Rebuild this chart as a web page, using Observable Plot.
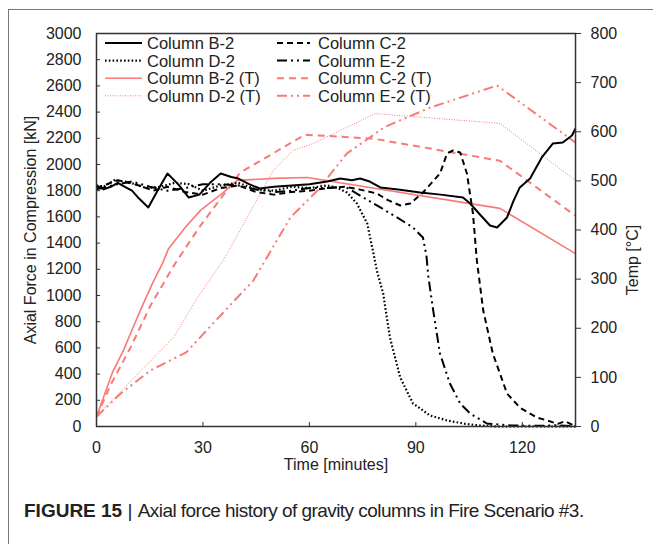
<!DOCTYPE html>
<html><head><meta charset="utf-8">
<script src="https://cdn.jsdelivr.net/npm/d3@7"></script>
<script src="https://cdn.jsdelivr.net/npm/@observablehq/plot@0.6"></script>
<style>
body{margin:0;background:#fff;font-family:"Liberation Sans",Arial,sans-serif;}
#wrap{position:relative;width:653px;height:544px;overflow:hidden;background:#fff;}
#border{position:absolute;left:8px;top:9px;width:700px;height:600px;border:1.5px solid #777;box-sizing:border-box;}
#chart{position:absolute;left:0;top:0;}
#legend{position:absolute;left:0;top:0;}
#caption{position:absolute;left:24px;top:500px;font-family:"Liberation Sans",Arial,sans-serif;font-size:19px;color:#222;white-space:nowrap;}
#caption .rest{letter-spacing:-0.55px;}
</style></head>
<body>
<div id="wrap">
<div id="border"></div>
<div id="chart"></div>
<svg id="legend" width="653" height="120"></svg>
<div id="caption"><b>FIGURE 15</b> | <span class="rest">Axial force history of gravity columns in Fire Scenario #3.</span></div>
</div>
<script>
// ---- tick labels ----
const xTicks = [0, 30, 60, 90, 120];
const yTicks = [0, 200, 400, 600, 800, 1000, 1200, 1400, 1600, 1800, 2000, 2200, 2400, 2600, 2800, 3000];
const tempTicks = [0, 100, 200, 300, 400, 500, 600, 700, 800];

// ---- axial force (kN) ----
const b2Time  = [0,2,4,6,8,10,12,14.6,17,20,23,26,29,32,35,38,40,43,46,50,55,60,65,68.7,72,74.3,77,80,85,91.2,97,103.3,105.3,108,110.9,112.9,115.7,117.5,119.3,122.2,125.5,128.6,131.4,134,135];
const b2Force = [1840,1810,1830,1860,1830,1800,1740,1672,1790,1931,1850,1748,1770,1860,1931,1905,1893,1850,1817,1830,1840,1850,1870,1893,1880,1893,1870,1825,1810,1786,1770,1748,1702,1620,1534,1519,1596,1720,1825,1893,2054,2160,2168,2221,2275];

const c2Time  = [0,3,6,9,12,16,20,25,30,35,40,45,50,55,60,65,70,74,79,82,85.6,88.4,92,96.8,98.8,100.5,102.5,104.4,106.1,107.2,109,111.7,115.7,119.3,124,127,130,132,134,135];
const c2Force = [1820,1850,1880,1860,1840,1800,1830,1790,1770,1820,1840,1790,1770,1790,1800,1820,1830,1810,1779,1730,1687,1702,1786,1931,2084,2107,2092,1931,1626,1267,885,557,252,145,69,46,20,40,15,10];

const d2Time  = [0,2,5,8,11,14,18,22,26,30,35,40,45,50,55,60,65,68,70.6,73.4,76.3,77.7,79.1,80.8,82.7,85.6,89.2,94,98.8,104,108,113,120,135];
const d2Force = [1840,1830,1880,1870,1850,1820,1830,1860,1850,1800,1840,1860,1810,1800,1830,1820,1840,1820,1786,1702,1550,1367,1180,1015,679,374,176,84,46,20,8,0,0,0];

const e2Time  = [0,3,6,10,15,20,25,30,35,40,45,50,55,60,65,70,72,74.3,80,84.7,89.2,92,93,93.5,94.9,96.8,99.6,102.5,105.3,110,117,125,130,135];
const e2Force = [1810,1830,1850,1870,1830,1800,1820,1850,1850,1840,1810,1790,1800,1820,1820,1830,1800,1763,1672,1596,1519,1443,1300,1150,885,557,328,176,99,23,8,5,10,0];

// ---- temperature (°C) ----
const b2tTime = [0,2,4.5,7.6,10.5,13.2,16,18.6,20.3,25,29.3,35.7,39.7,50,59.4,113.7,135];
const b2tTemp = [20,60,110,155,205,250,295,332,362,405,440,476,501,505,507,444,352];

const c2tTime = [0,4,9.6,15.2,22,29.3,40.5,58.8,78,113.7,135];
const c2tTemp = [20,85,161,246,330,409,517,594,586,541,429];

const d2tTime = [0,10,21.7,28.7,35.7,42.8,49.8,55.4,61.1,78.5,113.7,135];
const d2tTemp = [20,95,181,265,338,430,521,562,576,637,617,501];

const e2tTime = [0,6.8,15.2,25.3,38.3,44.2,54.6,62.2,70.6,81.3,94,112.9,135];
const e2tTemp = [20,67,114,151,252,297,425,480,556,610,649,694,578];

const legendOrder = ["Column B-2","Column C-2","Column D-2","Column E-2","Column B-2 (T)","Column C-2 (T)","Column D-2 (T)","Column E-2 (T)"];

// ---- styles ----
const PINK = "#f77b78";
const styles = {
  "Column B-2":     {stroke:"#000", strokeWidth:2, dash:null},
  "Column C-2":     {stroke:"#000", strokeWidth:2, dash:"6,4"},
  "Column D-2":     {stroke:"#000", strokeWidth:2.2, dash:"1.6,2.2"},
  "Column E-2":     {stroke:"#000", strokeWidth:2, dash:"10,4,2,4,2,4"},
  "Column B-2 (T)": {stroke:PINK, strokeWidth:1.6, dash:null},
  "Column C-2 (T)": {stroke:PINK, strokeWidth:2, dash:"7,5"},
  "Column D-2 (T)": {stroke:PINK, strokeWidth:1, dash:"1,1.5"},
  "Column E-2 (T)": {stroke:PINK, strokeWidth:2, dash:"10,4,2,4,2,4"}
};

const K = 3000 / 800; // temp -> force scale
const zip = (ts, vs) => ts.map((t, i) => ({t, v: vs[i]}));
const forceSeries = {
  "Column B-2": zip(b2Time, b2Force),
  "Column C-2": zip(c2Time, c2Force),
  "Column D-2": zip(d2Time, d2Force),
  "Column E-2": zip(e2Time, e2Force)
};
const tempSeries = {
  "Column B-2 (T)": zip(b2tTime, b2tTemp),
  "Column C-2 (T)": zip(c2tTime, c2tTemp),
  "Column D-2 (T)": zip(d2tTime, d2tTemp),
  "Column E-2 (T)": zip(e2tTime, e2tTemp)
};

const lineMark = (data, name, isTemp) => {
  const s = styles[name];
  return Plot.line(data, {
    x: "t",
    y: isTemp ? d => d.v * K : "v",
    stroke: s.stroke, strokeWidth: s.strokeWidth,
    strokeDasharray: s.dash || undefined,
    strokeLinecap: "butt", strokeLinejoin: "round"
  });
};

const chart = Plot.plot({
  width: 653, height: 480,
  marginLeft: 96, marginRight: 78, marginTop: 33, marginBottom: 54,
  x: {domain: [0, 135]},
  y: {domain: [0, 3000]},
  style: {fontFamily: "'Liberation Sans', Arial, sans-serif", fontSize: "16px", color: "#222", background: "transparent"},
  marks: [
    ...Object.entries(tempSeries).map(([n, d]) => lineMark(d, n, true)),
    ...Object.entries(forceSeries).map(([n, d]) => lineMark(d, n, false)),
    Plot.frame({stroke: "#333", strokeWidth: 1.5}),
    Plot.axisX({ticks: xTicks, tickFormat: d => String(d), tickSize: -4, tickPadding: 19, label: null, stroke: "#333"}),
    Plot.axisY({ticks: yTicks, tickFormat: d => String(d), tickSize: -4, tickPadding: 19, label: null, stroke: "#333"}),
    Plot.axisY({anchor: "right", ticks: tempTicks.map(v => v * K), tickFormat: d => String(Math.round(d / K)), tickSize: 5, tickPadding: 10, label: null, stroke: "#333"}),
    Plot.text(["Axial Force in Compression [kN]"], {frameAnchor: "left", dx: -66, rotate: -90, textAnchor: "middle", fontSize: 16}),
    Plot.text(["Temp [°C]"], {frameAnchor: "right", dx: 57, dy: 30, rotate: -90, textAnchor: "middle", fontSize: 16}),
    Plot.text(["Time [minutes]"], {frameAnchor: "bottom", dy: 43, textAnchor: "middle", fontSize: 16})
  ]
});
document.getElementById("chart").appendChild(chart);

// ---- legend overlay ----
const legendLayout = [
  {col: 0, row: 0}, {col: 1, row: 0}, {col: 0, row: 1}, {col: 1, row: 1},
  {col: 0, row: 2}, {col: 1, row: 2}, {col: 0, row: 3}, {col: 1, row: 3}
];
const cols = [{x1: 105, x2: 142, tx: 147}, {x1: 277, x2: 310, tx: 318}];
const rowY = r => 43 + r * 17.6;
const lg = d3.select("#legend");
legendOrder.forEach((name, i) => {
  const L = legendLayout[i], c = cols[L.col], y = rowY(L.row), s = styles[name];
  lg.append("line").attr("x1", c.x1).attr("x2", c.x2).attr("y1", y).attr("y2", y)
    .attr("stroke", s.stroke).attr("stroke-width", s.strokeWidth)
    .attr("stroke-dasharray", s.dash);
  lg.append("text").attr("x", c.tx).attr("y", y).attr("dy", "0.36em")
    .attr("font-family", "'Liberation Sans', Arial, sans-serif").attr("font-size", 16.5)
    .attr("fill", "#222").text(name);
});
</script>
</body></html>
